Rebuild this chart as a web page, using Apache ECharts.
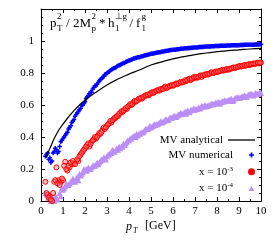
<!DOCTYPE html>
<html><head><meta charset="utf-8">
<script src="https://cdn.jsdelivr.net/npm/echarts@6/dist/echarts.min.js"></script>
<style>html,body{margin:0;padding:0;background:#fff}#c{width:280px;height:245px}</style>
</head><body><div id="c"></div>
<script>
// ---------- data ----------
const pT = [0.2,0.3,0.4,0.5,0.6,0.7,0.8,0.9,1.0,
1.1,1.2,1.3,1.4,1.5,1.6,1.7,1.8,1.9,2.0,
2.1,2.2,2.3,2.4,2.5,2.6,2.7,2.8,2.9,3.0,
3.1,3.2,3.3,3.4,3.5,3.6,3.7,3.8,3.9,4.0,
4.1,4.2,4.3,4.4,4.5,4.6,4.7,4.8,4.9,5.0,
5.1,5.2,5.3,5.4,5.5,5.6,5.7,5.8,5.9,6.0,
6.1,6.2,6.3,6.4,6.5,6.6,6.7,6.8,6.9,7.0,
7.1,7.2,7.3,7.4,7.5,7.6,7.7,7.8,7.9,8.0,
8.1,8.2,8.3,8.4,8.5,8.6,8.7,8.8,8.9,9.0,
9.1,9.2,9.3,9.4,9.5,9.6,9.7,9.8,9.9,10.0];

const pT2 = [0.25,0.35,0.45,0.55,0.65,0.75,0.85,0.95,
1.05,1.15,1.25,1.35,1.45,1.55,1.65,1.75,1.85,1.95,
2.05,2.15,2.25,2.35,2.45,2.55,2.65,2.75,2.85,2.95,
3.05,3.15,3.25,3.35,3.45,3.55,3.65,3.75,3.85,3.95,
4.05,4.15,4.25,4.35,4.45,4.55,4.65,4.75,4.85,4.95,
5.05,5.15,5.25,5.35,5.45,5.55,5.65,5.75,5.85,5.95,
6.05,6.15,6.25,6.35,6.45,6.55,6.65,6.75,6.85,6.95,
7.05,7.15,7.25,7.35,7.45,7.55,7.65,7.75,7.85,7.95,
8.05,8.15,8.25,8.35,8.45,8.55,8.65,8.75,8.85,8.95,
9.05,9.15,9.25,9.35,9.45,9.55,9.65,9.75,9.85,9.95];

const mvNumerical = [0.28,0.30,0.27,0.25,0.31,0.32,0.31,0.37,0.39,
0.41,0.43,0.46,0.49,0.51,0.54,0.56,0.58,0.60,0.62,
0.65,0.67,0.68,0.71,0.72,0.74,0.76,0.77,0.79,0.80,
0.81,0.82,0.83,0.835,0.845,0.85,0.86,0.862,0.872,0.878,
0.883,0.89,0.893,0.898,0.90,0.905,0.91,0.912,0.916,0.92,
0.922,0.925,0.928,0.93,0.933,0.936,0.938,0.94,0.943,0.945,
0.946,0.948,0.95,0.952,0.953,0.955,0.956,0.957,0.958,0.96,
0.96,0.962,0.963,0.964,0.965,0.966,0.966,0.967,0.968,0.969,
0.969,0.97,0.971,0.971,0.972,0.972,0.973,0.973,0.974,0.974,
0.975,0.975,0.976,0.976,0.977,0.977,0.977,0.978,0.978,0.979];

const mvNumerical2 = [0.29,0.26,0.24,0.30,0.33,0.30,0.34,0.38,
0.40,0.42,0.45,0.47,0.50,0.53,0.55,0.57,0.60,0.61,
0.64,0.66,0.68,0.70,0.72,0.73,0.75,0.765,0.78,0.79,
0.805,0.815,0.825,0.832,0.84,0.848,0.855,0.862,0.868,0.875,
0.88,0.886,0.89,0.896,0.899,0.903,0.907,0.911,0.914,0.918,
0.921,0.924,0.926,0.929,0.932,0.934,0.937,0.939,0.942,0.944,
0.946,0.947,0.949,0.951,0.952,0.954,0.955,0.957,0.958,0.959,
0.96,0.961,0.962,0.963,0.964,0.965,0.966,0.967,0.967,0.968,
0.969,0.97,0.97,0.971,0.972,0.972,0.973,0.973,0.974,0.974,
0.975,0.975,0.976,0.976,0.976,0.977,0.977,0.978,0.978,0.979];

const x1e3 = [0.12,0.04,0.03,0.0,0.12,0.21,0.13,0.12,0.13,
0.245,0.19,0.21,0.23,0.235,0.25,0.25,0.29,0.31,0.33,
0.35,0.34,0.37,0.385,0.39,0.41,0.42,0.445,0.45,0.47,
0.485,0.49,0.51,0.52,0.53,0.55,0.555,0.57,0.575,0.595,
0.60,0.615,0.62,0.63,0.64,0.64,0.655,0.66,0.66,0.675,
0.675,0.685,0.69,0.69,0.70,0.71,0.705,0.715,0.72,0.72,
0.73,0.73,0.74,0.74,0.745,0.75,0.76,0.755,0.765,0.77,
0.77,0.78,0.775,0.785,0.79,0.79,0.80,0.80,0.805,0.805,
0.81,0.815,0.815,0.82,0.82,0.825,0.83,0.83,0.835,0.84,
0.84,0.845,0.845,0.85,0.85,0.855,0.855,0.86,0.86,0.865];

const x1e3b = [0.05,0.02,0.01,0.05,0.13,0.11,0.10,0.14,
0.22,0.20,0.22,0.24,0.25,0.23,0.26,0.28,0.30,0.32,
0.34,0.36,0.355,0.38,0.40,0.40,0.425,0.43,0.46,0.46,
0.48,0.50,0.505,0.52,0.53,0.545,0.56,0.565,0.58,0.59,
0.605,0.605,0.625,0.625,0.64,0.645,0.65,0.66,0.665,0.67,
0.68,0.68,0.69,0.695,0.70,0.70,0.715,0.71,0.72,0.725,
0.725,0.735,0.735,0.745,0.745,0.755,0.755,0.765,0.765,0.775,
0.775,0.775,0.785,0.785,0.79,0.795,0.795,0.805,0.80,0.81,
0.81,0.815,0.82,0.82,0.825,0.825,0.83,0.835,0.835,0.84,
0.845,0.845,0.85,0.85,0.855,0.855,0.86,0.86,0.865,0.865];

const x1e4 = [0.05,0.04,0.03,0.01,0.0,0.02,0.12,0.03,0.07,
0.09,0.10,0.11,0.12,0.13,0.14,0.13,0.16,0.18,0.19,
0.19,0.20,0.21,0.22,0.23,0.23,0.25,0.26,0.27,0.28,
0.29,0.30,0.31,0.32,0.32,0.33,0.34,0.35,0.37,0.38,
0.39,0.40,0.40,0.41,0.42,0.43,0.44,0.45,0.455,0.46,
0.47,0.475,0.48,0.49,0.49,0.50,0.51,0.51,0.52,0.525,
0.53,0.535,0.54,0.545,0.55,0.545,0.56,0.565,0.57,0.57,
0.575,0.58,0.595,0.59,0.59,0.595,0.60,0.605,0.61,0.61,
0.615,0.62,0.62,0.625,0.63,0.63,0.625,0.64,0.645,0.645,
0.65,0.65,0.655,0.66,0.67,0.665,0.665,0.67,0.67,0.675];

const x1e4b = [0.04,0.02,0.0,0.01,0.03,0.01,0.05,0.08,
0.08,0.11,0.10,0.12,0.14,0.12,0.15,0.17,0.17,0.20,
0.20,0.21,0.20,0.22,0.22,0.24,0.24,0.26,0.27,0.26,
0.29,0.30,0.32,0.31,0.33,0.34,0.34,0.36,0.36,0.38,
0.39,0.40,0.41,0.42,0.42,0.43,0.43,0.45,0.45,0.47,
0.465,0.48,0.48,0.485,0.50,0.495,0.51,0.505,0.52,0.52,
0.535,0.525,0.54,0.55,0.545,0.56,0.565,0.555,0.57,0.58,
0.575,0.585,0.58,0.59,0.60,0.595,0.60,0.61,0.605,0.615,
0.62,0.61,0.625,0.63,0.625,0.635,0.64,0.63,0.645,0.65,
0.645,0.655,0.66,0.65,0.665,0.67,0.66,0.675,0.67,0.68];

const analyticX = [0.23,0.5,0.75,1,1.25,1.5,1.75,2,2.5,3,3.5,4,4.5,5,5.5,6,6.5,7,7.5,8,8.5,9,9.5,10];
const analyticY = [0.27,0.36,0.43,0.48,0.525,0.565,0.60,0.63,0.68,0.725,0.762,0.793,0.82,0.85,0.87,0.888,0.902,0.915,0.925,0.933,0.94,0.945,0.95,0.954];

const xTicks = [0,1,2,3,4,5,6,7,8,9,10];
const yTicks = [0,0.2,0.4,0.6,0.8,1];
const seriesNames = ['MV analytical','MV numerical','x = 10^-3','x = 10^-4'];

// ---------- chart ----------
const FF = 'Liberation Serif';
const zip = (xs, ys) => xs.map((x,i)=>[x, ys[i]]);
const PLUS = 'path://M1,0H2V1H3V2H2V3H1V2H0V1H1Z';
const TRI = 'path://M5,0L10,9H0Z';

const baseAxis = {
  type:'value', splitLine:{show:false},
  axisLine:{show:true, onZero:false, lineStyle:{color:'#000', width:1}},
  axisTick:{show:true, inside:true, length:4, lineStyle:{color:'#000'}},
  minorTick:{show:true, length:2, lineStyle:{color:'#000'}},
  axisLabel:{color:'#000', fontFamily:FF, fontSize:11}
};
function ax(extra){ return Object.assign({}, JSON.parse(JSON.stringify(baseAxis)), extra); }

function txt(t, x, y, size, italic){
  return {type:'text', left:x, top:y, z:100, style:{text:t, font:(italic?'italic ':'')+size+'px "'+FF+'"', fill:'#000'}};
}

const titleParts = [
  ['p',50,17,13],['2',57,12,9],['T',57,24,9],
  ['/',66,17,13],['2M',73,17,13],['2',91.5,12,9],['p',91.5,24,9],
  ['*',99,17,13],['h',108,17,13],['\u22A5',115,12,9],['1',115,24,9],['g',122.5,12,9],
  ['/',129.5,17,13],['f',136,17,13],['g',141.5,12,9],['1',141.5,24,9]
];
const graphics = titleParts.map(p=>txt(p[0],p[1],p[2],p[3],false));
graphics.push(txt('p',126,221,12,true));
graphics.push(txt('T',133,227,8,true));
graphics.push(txt('[GeV]',145,220,12,false));

const chart = echarts.init(document.getElementById('c'), null, {renderer:'canvas'});
chart.setOption({
  animation:false,
  backgroundColor:'#fff',
  grid:{left:41, right:19, top:9, bottom:44},
  xAxis:[
    ax({position:'bottom', min:0, max:10, interval:1,
        minorTick:{show:true, splitNumber:2, length:2, lineStyle:{color:'#000'}},
        axisLabel:{color:'#000', fontFamily:FF, fontSize:11, margin:5,
          formatter:v=>xTicks.includes(v)?String(v):''}}),
    ax({position:'top', min:0, max:10, interval:1,
        minorTick:{show:true, splitNumber:2, length:2, lineStyle:{color:'#000'}},
        axisLabel:{show:false}})
  ],
  yAxis:[
    ax({position:'left', min:0, max:1.2, interval:0.2,
        minorTick:{show:true, splitNumber:4, length:2, lineStyle:{color:'#000'}},
        axisLabel:{color:'#000', fontFamily:FF, fontSize:11, margin:7,
          formatter:v=>{const r=Math.round(v*10)/10; return yTicks.includes(r)?String(r):'';}}}),
    ax({position:'right', min:0, max:1.2, interval:0.2,
        minorTick:{show:true, splitNumber:4, length:2, lineStyle:{color:'#000'}},
        axisLabel:{show:false}})
  ],
  legend:[
    {data:[{name:seriesNames[0], icon:'rect'}], orient:'vertical', align:'right', padding:0,
     right:25, top:133.5, itemWidth:27, itemHeight:1.3,
     textStyle:{color:'#000', fontFamily:FF, fontSize:11, lineHeight:13}},
    {data:[{name:seriesNames[1]},
           {name:seriesNames[2], itemStyle:{color:'#ff0000', borderColor:'#ff0000'}},
           {name:seriesNames[3]}],
     orient:'vertical', align:'right', padding:0,
     right:25, top:148.5, itemWidth:27, itemHeight:5, itemGap:3.7,
     formatter:n=>{
       if(n.indexOf('x = 10^')===0){ return '{b|x = 10}{s|'+n.slice(7)+'}'; }
       return '{b|'+n+'}';
     },
     textStyle:{color:'#000', fontFamily:FF, fontSize:11, lineHeight:13,
       rich:{b:{fontFamily:FF, fontSize:11, lineHeight:13, color:'#000'},
             s:{fontFamily:FF, fontSize:7, lineHeight:13, verticalAlign:'top', padding:[0,0,4,0], color:'#000'}}}}
  ],
  graphic:graphics,
  series:[
    {name:seriesNames[3], type:'scatter', symbol:TRI, symbolSize:6, z:2,
     itemStyle:{color:'#bb8ef6', opacity:1}, data:zip(pT, x1e4).concat(zip(pT2, x1e4b))},
    {name:seriesNames[2], type:'scatter', symbol:'circle', symbolSize:5, z:3,
     itemStyle:{color:'rgba(255,120,120,0.45)', borderColor:'#ff0000', borderWidth:1, opacity:1}, data:zip(pT, x1e3).concat(zip(pT2, x1e3b))},
    {name:seriesNames[1], type:'scatter', symbol:PLUS, symbolSize:4.5, z:4,
     itemStyle:{color:'#0000ff', opacity:1}, data:zip(pT, mvNumerical).concat(zip(pT2, mvNumerical2))},
    {name:seriesNames[0], type:'line', smooth:true, showSymbol:false, symbol:'none', z:5,
     lineStyle:{color:'#000', width:1.2}, itemStyle:{color:'#000'}, data:zip(analyticX, analyticY)}
  ]
});
</script></body></html>
